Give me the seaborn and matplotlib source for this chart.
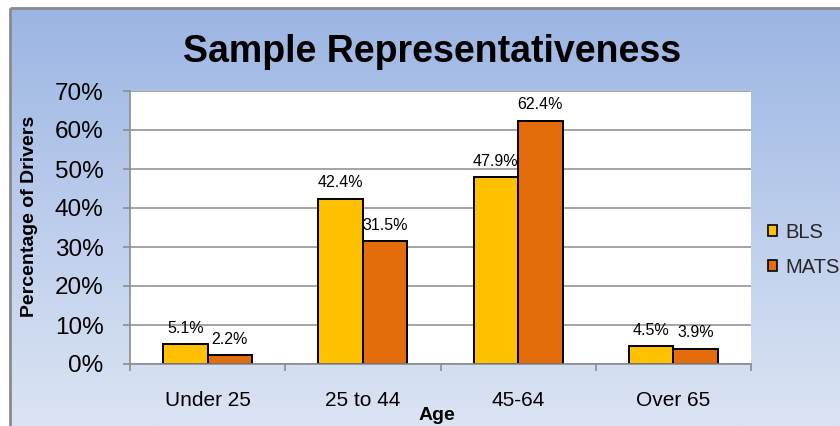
import numpy as np
import pandas as pd
import seaborn as sns
import matplotlib
matplotlib.use("Agg")
import matplotlib.pyplot as plt
from matplotlib.patches import Patch
from matplotlib.colors import LinearSegmentedColormap

# Share of drivers by age group, per data source (percent)
categories = ["Under 25", "25 to 44", "45-64", "Over 65"]
bls = [5.1, 42.4, 47.9, 4.5]
mats = [2.2, 31.5, 62.4, 3.9]
series = ["BLS", "MATS"]
y_ticks = [0, 10, 20, 30, 40, 50, 60, 70]

df = pd.DataFrame({
    "Age": categories * 2,
    "Source": [series[0]] * len(bls) + [series[1]] * len(mats),
    "Pct": bls + mats,
})

sns.set_theme(style="white")
plt.rcParams["font.family"] = ["Liberation Sans", "DejaVu Sans"]

W, H = 840, 426
fig = plt.figure(figsize=(W / 100, H / 100), dpi=100)
fig.patch.set_facecolor("white")

# Chart-area background: vertical blue gradient inside a grey frame
bg = fig.add_axes([0, 0, 1, 1], zorder=-10)
bg.set_xlim(0, 1)
bg.set_ylim(0, 1)
bg.set_axis_off()
x0 = 10 / W
ytop = 1 - 8 / H
grad = np.linspace(0, 1, 256).reshape(-1, 1)
cmap = LinearSegmentedColormap.from_list("chartbg", ["#9bb5e3", "#bccdec", "#dbe4f3"])
bg.imshow(grad, cmap=cmap, extent=[x0, 1, 0, ytop], aspect="auto", origin="upper")
bg.plot([x0, x0], [0, ytop], color="#8a8a8a", lw=2, solid_capstyle="butt")
bg.plot([x0, 1], [ytop, ytop], color="#8a8a8a", lw=2, solid_capstyle="butt")

# Plot area
ax = fig.add_axes([130 / W, 1 - 364 / H, 621 / W, 273 / H])
ax.set_facecolor("white")
palette = ["#FFC000", "#E46C0A"]
sns.barplot(data=df, x="Age", y="Pct", hue="Source", palette=palette,
            width=0.573, edgecolor="black", linewidth=1.4, saturation=1,
            legend=False, ax=ax)

for cont in ax.containers:
    ax.bar_label(cont, labels=[f"{v:.1f}%" for v in cont.datavalues],
                 padding=6, fontsize=11.5, color="black")

ax.set_ylim(0, 70)
ax.set_yticks(y_ticks)
ax.set_yticklabels([f"{v}%" for v in y_ticks], fontsize=17.5, color="black")
ax.yaxis.grid(True, color="#8c8c8c", lw=1.1)
ax.set_axisbelow(True)

ax.set_xlim(-0.5, len(categories) - 0.5)
ax.set_xticks(np.arange(-0.5, len(categories), 1.0))
ax.set_xticklabels([])
ax.set_xticks(range(len(categories)), minor=True)
ax.set_xticklabels(categories, minor=True, fontsize=15, color="black")
ax.tick_params(axis="x", which="major", direction="out", length=5,
               width=1.2, color="#8c8c8c", bottom=True)
ax.tick_params(axis="x", which="minor", length=0, pad=19.5)
ax.tick_params(axis="y", direction="out", length=5, width=1.2,
               color="#8c8c8c", left=True, pad=14)

for side in ["top", "right"]:
    ax.spines[side].set_visible(False)
for side in ["left", "bottom"]:
    ax.spines[side].set_color("#8c8c8c")
    ax.spines[side].set_linewidth(1.2)

ax.set_ylabel("Percentage of Drivers", fontsize=14, fontweight="bold", color="black")
ax.yaxis.set_label_coords((38 - 130) / 621, (364 - 216) / 273)
ax.set_xlabel("Age", fontsize=14, fontweight="bold", color="black")
ax.xaxis.set_label_coords((437 - 130) / 621, (364 - 407) / 273)

fig.text(432 / W, 1 - 62 / H, "Sample Representativeness", ha="center",
         va="baseline", fontsize=27, fontweight="bold", color="black")

handles = [Patch(facecolor=c, edgecolor="black", linewidth=1.2) for c in palette]
fig.legend(handles, series, loc="center left",
           bbox_to_anchor=(768 / W, 1 - 250 / H), frameon=False,
           fontsize=14.5, handlelength=0.45, handleheight=0.45,
           handletextpad=0.4, labelspacing=0.8, borderaxespad=0,
           borderpad=0)

fig.savefig("out.png", dpi=100)
